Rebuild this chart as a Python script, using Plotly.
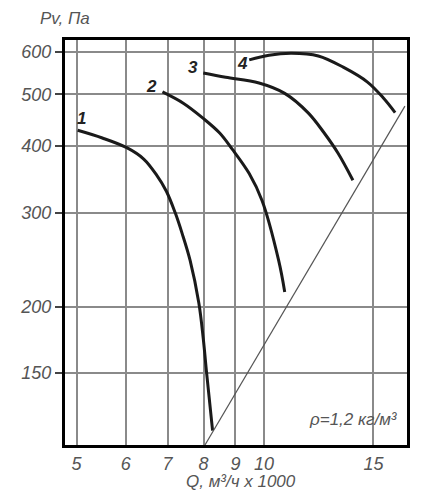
import numpy as np
import plotly.graph_objects as go

# Fan curves: Q (x1000 m3/h) vs Pv (Pa)
c1_q = [5.02, 5.50, 6.02, 6.41, 6.72, 6.97, 7.20, 7.39, 7.61, 7.86, 7.99, 8.09, 8.27]
c1_pv = [428, 414, 397, 378, 353, 329, 300, 274, 244, 203, 174, 150, 117]

c2_q = [6.87, 7.42, 7.98, 8.49, 8.90, 9.47, 9.93, 10.56, 10.80]
c2_pv = [505, 481, 451, 423, 394, 355, 316, 244, 213]

c3_q = [7.99, 8.68, 9.82, 10.80, 11.79, 12.50, 13.15, 13.90]
c3_pv = [548, 538, 525, 502, 461, 423, 388, 345]

c4_q = [9.47, 10.19, 11.08, 12.23, 13.41, 14.67, 15.56, 16.25]
c4_pv = [580, 592, 597, 590, 562, 527, 492, 462]

sys_q = [8.04, 16.85]
sys_pv = [110, 475]

x_ticks = [5, 6, 7, 8, 9, 10, 15]
y_ticks = [150, 200, 300, 400, 500, 600]
curve_labels = ["1", "2", "3", "4"]

FONT = "Liberation Sans"
TXT = "#555555"

fig = go.Figure()
for q, pv in [(c1_q, c1_pv), (c2_q, c2_pv), (c3_q, c3_pv), (c4_q, c4_pv)]:
    fig.add_trace(go.Scatter(x=q, y=pv, mode="lines",
                             line=dict(color="#1a1a1a", width=3, shape="spline", smoothing=1.0),
                             showlegend=False, hoverinfo="skip"))
fig.add_trace(go.Scatter(x=sys_q, y=sys_pv, mode="lines",
                         line=dict(color="#555555", width=1.2),
                         showlegend=False, hoverinfo="skip"))

fig.update_xaxes(type="log", range=[np.log10(4.79), np.log10(16.98)],
                 tickvals=x_ticks, ticktext=[str(v) for v in x_ticks],
                 showgrid=True, gridcolor="#8a8a8a", gridwidth=1.5,
                 showline=True, linecolor="black", linewidth=3, mirror=True,
                 ticks="", zeroline=False,
                 tickfont=dict(family=FONT, size=18, color=TXT, style="italic"))
fig.update_yaxes(type="log", range=[np.log10(110), np.log10(632)],
                 tickvals=y_ticks, ticktext=[str(v) for v in y_ticks],
                 showgrid=True, gridcolor="#8a8a8a", gridwidth=1.5,
                 showline=True, linecolor="black", linewidth=3, mirror=True,
                 ticks="outside", ticklen=7, tickwidth=2, tickcolor="#444",
                 zeroline=False,
                 tickfont=dict(family=FONT, size=18, color=TXT, style="italic"))

label_pos = [(0.049, 0.807), (0.254, 0.884), (0.375, 0.933), (0.519, 0.943)]
for txt, (ax, ay) in zip(curve_labels, label_pos):
    fig.add_annotation(x=ax, y=ay, xref="paper", yref="paper", text="<b>" + txt + "</b>",
                       showarrow=False, xanchor="center", yanchor="middle",
                       font=dict(family=FONT, size=17, color="#222", style="italic"))

fig.add_annotation(x=0.0, y=1.052, xref="paper", yref="paper", text="Pv, Па",
                   showarrow=False, xanchor="center", yanchor="middle",
                   font=dict(family=FONT, size=17, color=TXT, style="italic"))
fig.add_annotation(x=0.516, y=-0.089, xref="paper", yref="paper", text="Q, м³/ч x 1000",
                   showarrow=False, xanchor="center", yanchor="middle",
                   font=dict(family=FONT, size=17, color=TXT, style="italic"))
fig.add_annotation(x=0.98, y=0.064, xref="paper", yref="paper", text="ρ=1,2 кг/м³",
                   showarrow=False, xanchor="right", yanchor="middle",
                   font=dict(family=FONT, size=17, color=TXT, style="italic"))

# page body has an 8px default margin; compensate so the plot area lands where the reference has it
fig.update_layout(width=437, height=491,
                  margin=dict(l=52, r=38, t=32, b=54),
                  paper_bgcolor="white", plot_bgcolor="white")

fig.write_html("out.html")
